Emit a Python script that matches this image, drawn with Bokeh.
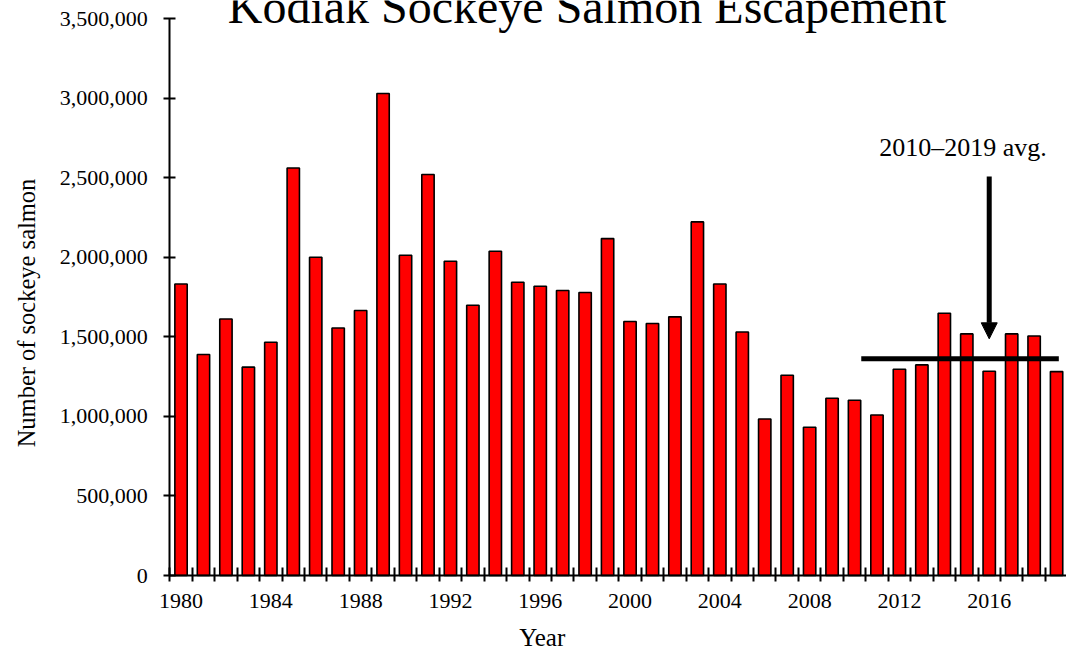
from bokeh.plotting import figure
from bokeh.models import Range1d, FixedTicker, NumeralTickFormatter, Label, Arrow, NormalHead
from bokeh.embed import file_html
from bokeh.resources import INLINE

# ---- data ----
years = list(range(1980, 2020))
escapement = [1833000, 1389000, 1613000, 1310000, 1466000, 2562000, 2001000, 1556000, 1666000, 3030000,
              2013000, 2521000, 1976000, 1699000, 2039000, 1844000, 1819000, 1792000, 1779000, 2118000,
              1597000, 1584000, 1626000, 2223000, 1833000, 1531000, 984000, 1259000, 932000, 1114000,
              1102000, 1009000, 1297000, 1324000, 1649000, 1519000, 1284000, 1519000, 1506000, 1282000]
x_tick_years = [1980, 1984, 1988, 1992, 1996, 2000, 2004, 2008, 2012, 2016]
y_ticks = [0, 500000, 1000000, 1500000, 2000000, 2500000, 3000000, 3500000]
avg_2010_2019 = 1362000
avg_span = (2010.3, 2019.1)
arrow_x = 2016
arrow_top = 2508000
arrow_tip = 1488000

title_text = "Kodiak Sockeye Salmon Escapement"
y_title = "Number of sockeye salmon"
x_title = "Year"
avg_text = "2010\u20132019 avg."

FONT = "Liberation Serif"

# ---- layout: the frame fills the canvas, axes are pinned inside it ----
W, H = 1066, 651
AXIS_X_PX, AXIS_Y_PX = 169.3, 575.0        # pixel position of the two axis lines
PX_PER_YEAR = 22.45
UNITS_PER_PX = 3500000 / 556.7

x0 = years[0] - 0.5
x_start = x0 - AXIS_X_PX / PX_PER_YEAR
x_end = x0 + (W - AXIS_X_PX) / PX_PER_YEAR
y_start = -(H - AXIS_Y_PX) * UNITS_PER_PX
y_end = AXIS_Y_PX * UNITS_PER_PX


def px_to_x(px):
    return x0 + (px - AXIS_X_PX) / PX_PER_YEAR


def px_to_y(py):
    return (AXIS_Y_PX - py) * UNITS_PER_PX


p = figure(width=W, height=H,
           x_range=Range1d(x_start, x_end), y_range=Range1d(y_start, y_end),
           output_backend="svg", toolbar_location=None,
           min_border=0, min_border_left=0, min_border_right=0, min_border_top=0, min_border_bottom=0)
p.xgrid.visible = False
p.ygrid.visible = False
p.outline_line_color = None
p.background_fill_color = "white"
p.border_fill_color = "white"

p.vbar(x=years, top=escapement, bottom=0, width=0.55,
       fill_color="#FF0000", line_color="black", line_width=1.6)

p.segment(x0=[avg_span[0]], y0=[avg_2010_2019], x1=[avg_span[1]], y1=[avg_2010_2019],
          line_color="black", line_width=5)

p.add_layout(Arrow(end=NormalHead(size=16, fill_color="black", line_color="black", line_width=1),
                   x_start=arrow_x, y_start=arrow_top, x_end=arrow_x, y_end=arrow_tip,
                   line_color="black", line_width=5))

# x axis
xa = p.xaxis[0]
xa.fixed_location = 0
xa.bounds = (x0, years[-1] + 0.5)
xa.ticker = FixedTicker(ticks=x_tick_years, minor_ticks=[y - 0.5 for y in years] + [years[-1] + 0.5])
xa.major_tick_in = 0
xa.major_tick_out = 0
xa.minor_tick_in = 8
xa.minor_tick_out = 6
xa.minor_tick_line_width = 2
xa.minor_tick_line_color = "black"
xa.axis_line_width = 2
xa.axis_line_color = "black"
xa.major_label_standoff = 12
xa.major_label_text_font = FONT
xa.major_label_text_font_size = "22px"
xa.major_label_text_color = "black"

# y axis
ya = p.yaxis[0]
ya.fixed_location = x0
ya.bounds = (0, y_ticks[-1])
ya.ticker = FixedTicker(ticks=y_ticks)
ya.formatter = NumeralTickFormatter(format="0,0")
ya.major_tick_in = 6
ya.major_tick_out = 6
ya.major_tick_line_width = 2
ya.major_tick_line_color = "black"
ya.minor_tick_line_color = None
ya.axis_line_width = 2
ya.axis_line_color = "black"
ya.major_label_standoff = 16
ya.major_label_text_font = FONT
ya.major_label_text_font_size = "22px"
ya.major_label_text_color = "black"

# texts (anchored at their middle)
p.add_layout(Label(x=px_to_x(586.5), y=px_to_y(5.7), text=title_text, text_font=FONT,
                   text_font_size="48px", text_align="center", text_baseline="middle",
                   text_color="black"))
p.add_layout(Label(x=px_to_x(25.5), y=px_to_y(312.5), text=y_title, text_font=FONT,
                   text_font_size="24.5px", angle=1.5707963267948966, text_align="center",
                   text_baseline="middle", text_color="black"))
p.add_layout(Label(x=px_to_x(541.7), y=px_to_y(636.5), text=x_title, text_font=FONT,
                   text_font_size="25px", text_align="center", text_baseline="middle",
                   text_color="black"))
p.add_layout(Label(x=px_to_x(962.5), y=px_to_y(147.2), text=avg_text, text_font=FONT,
                   text_font_size="26px", text_align="center", text_baseline="middle",
                   text_color="black"))

open("out.html", "w").write(file_html(p, INLINE))
